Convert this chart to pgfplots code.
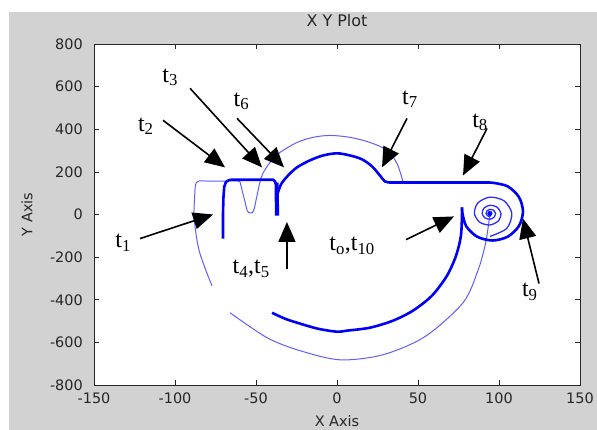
\documentclass[border=0pt]{standalone}
\usepackage{fontspec}
\setmainfont{Liberation Serif}
\newfontfamily\axfont{DejaVu Sans}
\usepackage{pgfplots}
\pgfplotsset{compat=1.18}
\usetikzlibrary{arrows.meta}
\definecolor{figgrey}{RGB}{210,210,210}
\definecolor{thinblue}{RGB}{95,95,255}
\definecolor{thickblue}{RGB}{0,0,245}
\definecolor{midblue}{RGB}{45,45,255}
\newcommand{\tl}[1]{t\textsubscript{#1}}
\newcommand{\lbl}{\fontsize{24}{28}\selectfont}
\tikzset{ann/.style={black, line width=1.6bp, -{Triangle[length=20bp,width=17bp]}}}
\begin{document}
\begin{tikzpicture}
\clip (0,0) rectangle (597bp,430bp);
\fill[white] (0,0) rectangle (597bp,430bp);
\fill[figgrey] (8.5bp,0) rectangle (597bp,417.5bp);
\begin{axis}[
  at={(94bp,45bp)}, anchor=south west,
  width=486bp, height=341bp, scale only axis,
  xmin=-150, xmax=150, ymin=-800, ymax=800,
  xtick={-150,-100,-50,0,50,100,150},
  xticklabels={-150,-100,-50,0,50,100,150},
  ytick={-800,-600,-400,-200,0,200,400,600,800},
  yticklabels={-800,-600,-400,-200,0,200,400,600,800},
  tick align=inside, major tick length=5bp,
  axis line style={black!85, line width=0.7bp},
  every tick/.style={black!85, line width=0.7bp},
  axis background/.style={fill=white},
  tick label style={font=\axfont\fontsize{14.5}{16}\selectfont, text=black!85},
  xticklabel style={anchor=north, inner sep=0pt, yshift=-8bp},
  yticklabel style={anchor=east, inner sep=0pt, xshift=-11bp},
  title={X Y Plot},
  title style={font=\axfont\fontsize{16}{18}\selectfont, text=black!85, at={(axis description cs:0.5,1.05)}, anchor=center, inner sep=0pt},
  xlabel={X Axis},
  xlabel style={font=\axfont\fontsize{14.5}{16}\selectfont, text=black!85, at={(axis description cs:0.5,-0.105)}, anchor=center, inner sep=0pt},
  ylabel={Y Axis},
  ylabel style={font=\axfont\fontsize{14.5}{16}\selectfont, text=black!85, at={(axis description cs:-0.138,0.5)}, anchor=center, inner sep=0pt},
  clip mode=individual,
]
% thin outer path: left side, top, dip, outer top arc
\addplot[thinblue, line width=1bp, smooth] coordinates {
(-77.2,-334) (-80.9,-263) (-84.6,-183) (-86.4,-122) (-87.7,-52) (-88.3,5)
(-87.9,80) (-87.5,130) (-86.8,150) (-85.5,157) (-80,157) (-70,157) (-61,157)
(-59.6,145) (-58.5,110) (-56.8,60) (-55.5,20) (-54.6,9) (-52.2,9) (-51.0,30)
(-50.0,66) (-48.5,120) (-47.3,160) (-45.7,193) (-41.4,244) (-35.2,291)
(-24.7,338) (-14.8,362) (-4.3,371) (8.0,362) (20.4,338) (30.9,301) (37.0,240) (40.7,155)
};
% thin outer bottom arc into spiral centre
\addplot[thinblue, line width=1bp, smooth] coordinates {
(-66.0,-461) (-43.2,-578) (-22.8,-639) (1.9,-682) (28.4,-658) (54.3,-573)
(77.8,-414) (87.0,-263) (91.4,-146) (93.2,-66) (94.4,5)
};
% spiral
\addplot[midblue, line width=1.3bp, smooth] coordinates {
(94.4,-103.1) (104.8,-65.1) (107.9,5) (103.2,63.9) (94.4,81.4) (87.0,54.5)
(84.8,5) (88.2,-36.7) (94.4,-49.1) (99.6,-30.1) (101.2,5) (98.8,34.5)
(94.4,43.3) (90.7,29.8) (89.6,5) (91.3,-15.9) (94.4,-22.1) (97.0,-12.5)
(97.8,5) (96.6,19.8) (94.4,24.1) (92.6,17.4) (92.0,5) (92.8,-5.4) (94.4,-8.5) (94.4,5)
};
\addplot[thickblue, only marks, mark=*, mark size=2.3bp] coordinates {(94.4,5)};
% thick t1 segment and top horizontal
\addplot[thickblue, line width=2.6bp] coordinates {
(-70.4,-113) (-70.4,-5) (-70.1,80) (-69.6,130) (-68.6,152) (-67.0,160) (-65.5,163)
(-39.5,163) (-38.2,155) (-37.5,140)
};
\addplot[thickblue, line width=4.2bp] coordinates {(-37.3,150) (-37.0,-5)};
% thick inner top arc, horizontal and big loop
\addplot[thickblue, line width=2.6bp, smooth] coordinates {
(-37.0,89) (-34.6,141) (-30.2,183) (-24.7,221) (-16.7,254) (-8.6,277) (0,287)
(8.0,277) (15.4,259) (21.6,226) (26.5,183) (29.6,155) (32.7,150)
};
\addplot[thickblue, line width=2.6bp, smooth] coordinates {
(32.7,150) (45,150) (60,150) (75,150) (90,150) (96.0,149) (105.4,132) (112.3,82)
(114.8,14) (112.3,-54) (105.4,-104) (96.0,-122) (86.5,-104) (79.7,-54) (77.2,14) (77.2,33)
};
% thick inner bottom arc
\addplot[thickblue, line width=2.6bp, smooth] coordinates {
(77.2,33) (77.2,9) (76.5,-99) (73.5,-193) (67.9,-287) (58.6,-381) (46.9,-451)
(34.6,-498) (20.4,-531) (6.2,-545) (0,-550) (-11.7,-536) (-22.8,-512) (-32.1,-489) (-40.1,-461)
};
% annotations
\draw[ann] (axis cs:-121.6,-113) -- (axis cs:-76.5,0);
\draw[ann] (axis cs:-107.4,442) -- (axis cs:-69.1,221);
\draw[ann] (axis cs:-90.7,592) -- (axis cs:-46.3,221);
\draw[ann] (axis cs:-61.7,451) -- (axis cs:-32.7,221);
\draw[ann] (axis cs:-30.9,-254) -- (axis cs:-30.9,-35);
\draw[ann] (axis cs:43.2,451) -- (axis cs:27.8,221);
\draw[ann] (axis cs:92.6,404) -- (axis cs:77.8,183);
\draw[ann] (axis cs:42.6,-118) -- (axis cs:72.2,-9);
\draw[ann] (axis cs:124.7,-324) -- (axis cs:114.8,-19);
\node[font=\lbl] at (axis cs:-132,-132) {\tl{1}};
\node[font=\lbl] at (axis cs:-118,414) {\tl{2}};
\node[font=\lbl] at (axis cs:-103,644) {\tl{3}};
\node[font=\lbl] at (axis cs:-59,531) {\tl{6}};
\node[font=\lbl] at (axis cs:-53,-254) {\tl{4},\tl{5}};
\node[font=\lbl] at (axis cs:45,541) {\tl{7}};
\node[font=\lbl] at (axis cs:88.3,432) {\tl{8}};
\node[font=\lbl] at (axis cs:9.3,-146) {\tl{o},\tl{10}};
\node[font=\lbl] at (axis cs:119,-362) {\tl{9}};
\end{axis}
\end{tikzpicture}
\end{document}
